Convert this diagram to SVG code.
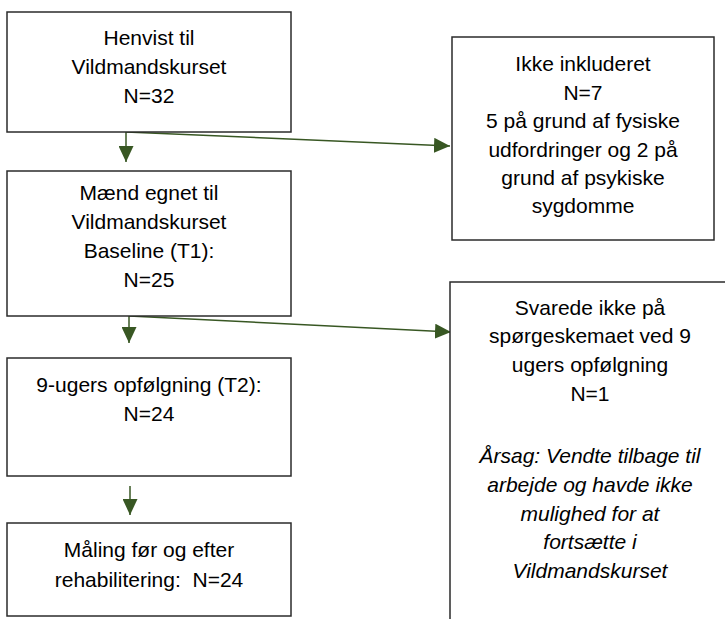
<svg xmlns="http://www.w3.org/2000/svg" width="725" height="619" viewBox="0 0 725 619">
  <style>
    .box { fill: #ffffff; stroke: #2b2b2b; stroke-width: 1.5; }
    .lbl { font-family: "Liberation Sans", Arial, sans-serif; font-size: 21px; fill: #000000; text-anchor: middle; }
    .it { font-style: italic; }
    .conn { stroke: #385723; stroke-width: 1.5; fill: none; marker-end: url(#head); }
  </style>
  <defs>
    <marker id="head" viewBox="0 0 16 15" refX="16" refY="7.5" markerWidth="16" markerHeight="15" markerUnits="userSpaceOnUse" orient="auto">
      <path d="M0,0 L16,7.5 L0,15 Z" fill="#385723"/>
    </marker>
  </defs>

  <rect width="725" height="619" fill="#ffffff"/>

  <g id="connectors">
    <line class="conn" x1="126" y1="132" x2="126" y2="162"/>
    <line class="conn" x1="126" y1="132" x2="450" y2="146"/>
    <line class="conn" x1="129" y1="316" x2="129" y2="343"/>
    <line class="conn" x1="129" y1="316" x2="451" y2="332"/>
    <line class="conn" x1="130" y1="486" x2="130" y2="515"/>
  </g>

  <g id="henvist">
    <rect class="box" x="7" y="12" width="284" height="120"/>
    <text class="lbl" x="149" y="45">Henvist til</text>
    <text class="lbl" x="149" y="74">Vildmandskurset</text>
    <text class="lbl" x="149" y="103">N=32</text>
  </g>

  <g id="baseline">
    <rect class="box" x="7" y="171" width="284" height="145"/>
    <text class="lbl" x="149" y="200">Mænd egnet til</text>
    <text class="lbl" x="149" y="229">Vildmandskurset</text>
    <text class="lbl" x="149" y="258">Baseline (T1):</text>
    <text class="lbl" x="149" y="287">N=25</text>
  </g>

  <g id="opfoelgning">
    <rect class="box" x="7" y="358" width="284" height="118"/>
    <text class="lbl" x="149" y="392">9-ugers opfølgning (T2):</text>
    <text class="lbl" x="149" y="421">N=24</text>
  </g>

  <g id="maaling">
    <rect class="box" x="7" y="523" width="284" height="93"/>
    <text class="lbl" x="149" y="557">Måling før og efter</text>
    <text class="lbl" x="149" y="587" xml:space="preserve">rehabilitering:  N=24</text>
  </g>

  <g id="ikke-inkluderet">
    <rect class="box" x="452" y="37" width="262" height="203"/>
    <text class="lbl" x="583" y="71">Ikke inkluderet</text>
    <text class="lbl" x="583" y="100">N=7</text>
    <text class="lbl" x="583" y="128">5 på grund af fysiske</text>
    <text class="lbl" x="583" y="157">udfordringer og 2 på</text>
    <text class="lbl" x="583" y="185">grund af psykiske</text>
    <text class="lbl" x="583" y="213">sygdomme</text>
  </g>

  <g id="svarede-ikke">
    <rect class="box" x="450" y="282" width="290" height="350"/>
    <text class="lbl" x="590" y="315">Svarede ikke på</text>
    <text class="lbl" x="590" y="343">spørgeskemaet ved 9</text>
    <text class="lbl" x="590" y="372">ugers opfølgning</text>
    <text class="lbl" x="590" y="401">N=1</text>
    <text class="lbl it" x="590" y="463">Årsag: Vendte tilbage til</text>
    <text class="lbl it" x="590" y="492">arbejde og havde ikke</text>
    <text class="lbl it" x="590" y="521">mulighed for at</text>
    <text class="lbl it" x="590" y="549">fortsætte i</text>
    <text class="lbl it" x="590" y="578">Vildmandskurset</text>
  </g>
</svg>
